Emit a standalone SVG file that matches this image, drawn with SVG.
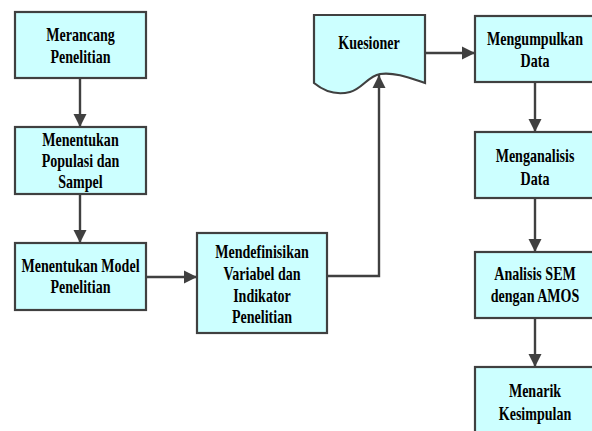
<svg xmlns="http://www.w3.org/2000/svg" width="592" height="431" viewBox="0 0 592 431">
  <style>
    .box { fill: #CCFFFF; stroke: #404040; stroke-width: 2.2; }
    .lbl { font-family: "Liberation Serif", "Times New Roman", serif; font-weight: bold; font-size: 18px; fill: #000; text-anchor: middle; }
    .edge { fill: none; stroke: #404040; stroke-width: 2.4; }
  </style>
  <defs>
    <marker id="arrow" viewBox="0 0 10 10" refX="10" refY="5" markerWidth="5.5" markerHeight="5.5" markerUnits="strokeWidth" orient="auto">
      <path d="M0,0 L10,5 L0,10 Z" fill="#404040"/>
    </marker>
  </defs>
  <rect width="592" height="431" fill="#ffffff"/>

  <g id="connectors">
    <path class="edge" d="M80,78 V127" marker-end="url(#arrow)"/>
    <path class="edge" d="M80,194 V243" marker-end="url(#arrow)"/>
    <path class="edge" d="M146,277 H197" marker-end="url(#arrow)"/>
    <path class="edge" d="M327,276 H379 V75" marker-end="url(#arrow)"/>
    <path class="edge" d="M425,53 H475" marker-end="url(#arrow)"/>
    <path class="edge" d="M535,82 V132" marker-end="url(#arrow)"/>
    <path class="edge" d="M535,198 V252" marker-end="url(#arrow)"/>
    <path class="edge" d="M535,318 V367" marker-end="url(#arrow)"/>
  </g>

  <g id="merancang">
    <rect class="box" x="15" y="12" width="131" height="66"/>
    <text class="lbl" transform="matrix(0.78,0,0,1,80.5,0)"><tspan x="0" y="41">Merancang</tspan><tspan x="0" y="63">Penelitian</tspan></text>
  </g>

  <g id="populasi">
    <rect class="box" x="15" y="127" width="131" height="67"/>
    <text class="lbl" transform="matrix(0.78,0,0,1,80.5,0)"><tspan x="0" y="146">Menentukan</tspan><tspan x="0" y="167">Populasi dan</tspan><tspan x="0" y="188">Sampel</tspan></text>
  </g>

  <g id="model">
    <rect class="box" x="15" y="243" width="131" height="67"/>
    <text class="lbl" transform="matrix(0.78,0,0,1,80.5,0)"><tspan x="0" y="272">Menentukan Model</tspan><tspan x="0" y="293">Penelitian</tspan></text>
  </g>

  <g id="variabel">
    <rect class="box" x="197" y="233" width="130" height="100"/>
    <text class="lbl" transform="matrix(0.78,0,0,1,262,0)"><tspan x="0" y="258">Mendefinisikan</tspan><tspan x="0" y="280">Variabel dan</tspan><tspan x="0" y="302">Indikator</tspan><tspan x="0" y="323">Penelitian</tspan></text>
  </g>

  <g id="kuesioner">
    <path class="box" d="M314,15 H425 V83 C410,78 395,72 380,74 C368,76 362,89 350,92 C338,95 325,92 314,83 Z"/>
    <text class="lbl" transform="matrix(0.78,0,0,1,369,0)"><tspan x="0" y="49">Kuesioner</tspan></text>
  </g>

  <g id="mengumpulkan">
    <rect class="box" x="475" y="16" width="121" height="66"/>
    <text class="lbl" transform="matrix(0.78,0,0,1,535,0)"><tspan x="0" y="45">Mengumpulkan</tspan><tspan x="0" y="67">Data</tspan></text>
  </g>

  <g id="menganalisis">
    <rect class="box" x="475" y="132" width="121" height="66"/>
    <text class="lbl" transform="matrix(0.78,0,0,1,535,0)"><tspan x="0" y="162">Menganalisis</tspan><tspan x="0" y="185">Data</tspan></text>
  </g>

  <g id="sem">
    <rect class="box" x="475" y="252" width="121" height="66"/>
    <text class="lbl" transform="matrix(0.78,0,0,1,535,0)"><tspan x="0" y="280">Analisis SEM</tspan><tspan x="0" y="302">dengan AMOS</tspan></text>
  </g>

  <g id="kesimpulan">
    <rect class="box" x="475" y="367" width="121" height="70"/>
    <text class="lbl" transform="matrix(0.78,0,0,1,535,0)"><tspan x="0" y="397">Menarik</tspan><tspan x="0" y="420">Kesimpulan</tspan></text>
  </g>
</svg>
